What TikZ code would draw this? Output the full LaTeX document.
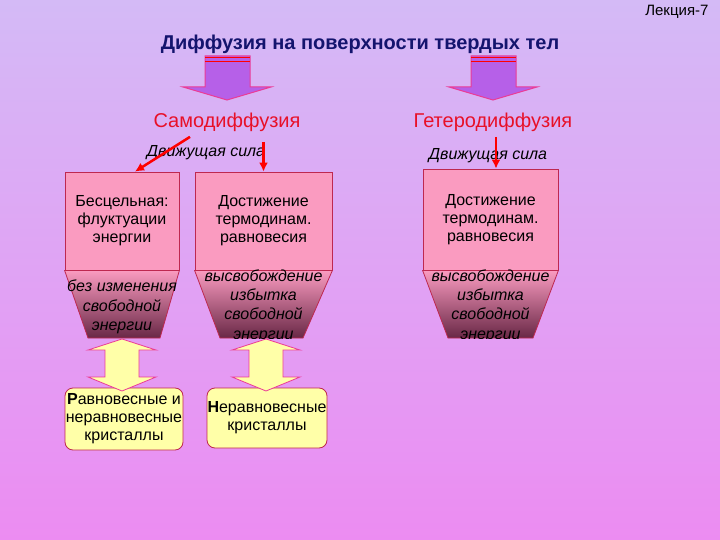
\documentclass[tikz,border=0pt]{standalone}
\usepackage{fontspec}
\setmainfont{Liberation Sans}
\usetikzlibrary{arrows.meta}
\definecolor{bgtop}{RGB}{212,186,246}
\definecolor{bgbot}{RGB}{236,140,242}
\definecolor{navy}{RGB}{20,20,110}
\definecolor{redtxt}{RGB}{232,16,40}
\definecolor{boxpink}{RGB}{250,155,192}
\definecolor{boxline}{RGB}{190,40,80}
\definecolor{darkfunnel}{RGB}{105,40,70}
\definecolor{arrviolet}{RGB}{182,96,232}
\definecolor{arrline}{RGB}{235,60,150}
\definecolor{lemon}{RGB}{255,255,168}

\begin{document}
\begin{tikzpicture}[x=1pt,y=-1pt,>={Latex[length=9pt,width=9pt]},
	box/.style={
		draw=boxline,
		fill=boxpink,
		line width=0.8pt,
		align=center,
		font=\fontsize{16}{18}\selectfont,
	},
	funnel/.style={draw=boxline,line width=0.8pt,top color=boxpink,middle color=boxpink!80!darkfunnel,bottom color=darkfunnel},
	ftext/.style={align=center,font=\fontsize{16}{19.3}\selectfont\itshape},
	result/.style={box,fill=lemon,rounded corners=8pt,inner xsep=0pt},
	kind/.style={text=redtxt,font=\fontsize{20}{24}\selectfont},
	force/.style={font=\fontsize{16}{18}\selectfont\itshape},
	redarrow/.style={->,draw=red,line width=2.5pt},
]
	\useasboundingbox (0,0) rectangle (720,540);
	\shade[top color=bgtop,bottom color=bgbot] (0,0) rectangle (720,540);

	\node[anchor=east,font=\fontsize{15}{18}\selectfont] (lect) at (712,12) {Лекция-7};
	\node[text=navy,font=\fontsize{20}{24}\selectfont\bfseries] (title) at (360,44)
		{Диффузия на поверхности твердых тел};

	% broad arrows under the title
	\foreach \cx in {227,493}{
		\draw[fill=arrviolet,draw=arrline,line width=1pt] (\cx-22,56) -- (\cx+23,56)
			-- (\cx+23,87) -- (\cx+44,87) -- (\cx,100) -- (\cx-44,87) -- (\cx-22,87) -- cycle;
		\draw[red,line width=1.5pt] (\cx-22,57.5) -- (\cx+23,57.5);
		\draw[red,line width=1.2pt] (\cx-22,61.5) -- (\cx+23,61.5);
	}

	\node[kind] (samo) at (227,122) {Самодиффузия};
	\node[kind] (hetero) at (493,122) {Гетеродиффузия};
	\node[force] (drive1) at (206,153) {Движущая сила};
	\node[force] (drive2) at (488,156) {Движущая сила};

	% upper boxes
	\node[box,minimum width=114,minimum height=98] (bl) at (122,221)
		{Бесцельная:\\флуктуации\\энергии};
	\node[box,minimum width=137,minimum height=98] (bm) at (263.5,221)
		{Достижение\\термодинам.\\равновесия};
	\node[box,minimum width=135,minimum height=101] (br) at (490.5,219.5)
		{Достижение\\термодинам.\\равновесия};

	% funnels
	\shade[funnel] (bl.south west) -- (bl.south east) -- (160,338) -- (88,338) -- cycle;
	\shade[funnel] (bm.south west) -- (bm.south east) -- (303,338) -- (220,338) -- cycle;
	\shade[funnel] (br.south west) -- (br.south east) -- (533,338) -- (448,338) -- cycle;
	\begin{scope}
		\clip (0,0) rectangle (720,338);
		\node[ftext] (fl) at (122,307) {без изменения\\свободной\\энергии};
		\node[ftext] (fm) at (263.5,306) {высвобождение\\избытка\\свободной\\энергии};
		\node[ftext] (fr) at (490.5,306) {высвобождение\\избытка\\свободной\\энергии};
	\end{scope}

	% lower boxes
	\node[result,minimum width=118,minimum height=62] (rl) at (124,419)
		{\textbf{Р}авновесные и\\неравновесные\\кристаллы};
	\node[result,minimum width=120,minimum height=60] (rm) at (267,418)
		{\textbf{Н}еравновесные\\кристаллы};

	% double arrows
	\foreach \cx in {122,266}{
		\draw[fill=lemon,draw=arrline,line width=0.8pt] (\cx,339) -- (\cx+34,350) -- (\cx+17,350)
			-- (\cx+17,377) -- (\cx+34,377) -- (\cx,391) -- (\cx-34,377) -- (\cx-17,377)
			-- (\cx-17,350) -- (\cx-34,350) -- cycle;
	}

	\draw[redarrow] ([xshift=-37pt,yshift=-2pt]samo.south) -- ([xshift=13pt]bl.north);
	\draw[redarrow] ([yshift=-7pt]samo.south -| bm.north) -- (bm.north);
	\draw[redarrow] ([xshift=3pt,yshift=-2pt]hetero.south) -- ([xshift=3pt]hetero.south |- br.north);
\end{tikzpicture}
\end{document}
